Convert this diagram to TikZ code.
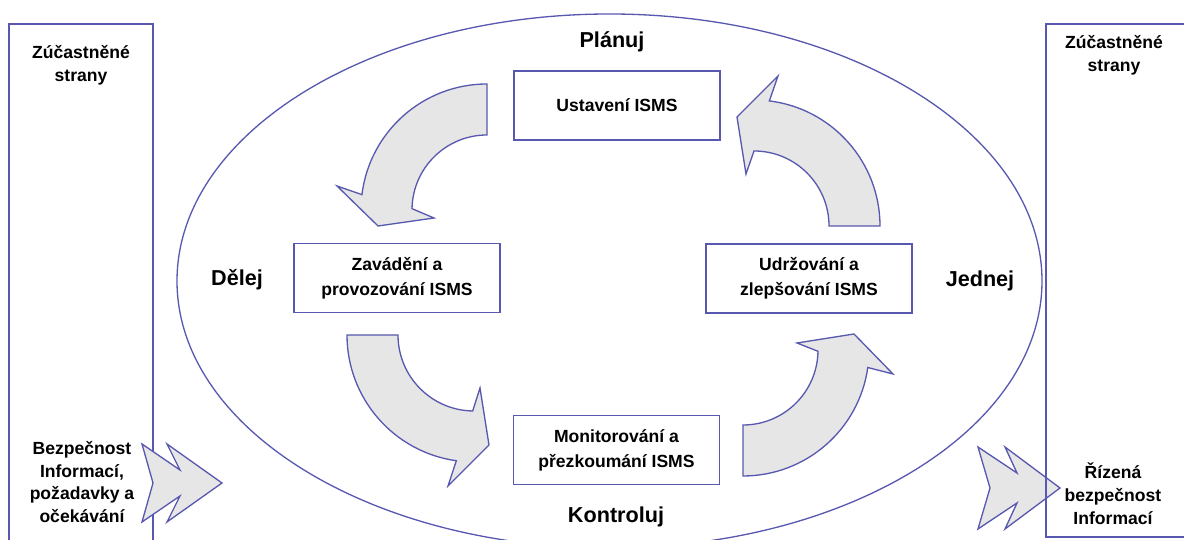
\documentclass[tikz,border=0pt]{standalone}
\usepackage{fontspec}
\setmainfont{Liberation Sans}
\usetikzlibrary{calc}
\definecolor{isblue}{RGB}{88,88,176}
\definecolor{arrowgray}{RGB}{230,230,230}

\begin{document}
\begin{tikzpicture}[x=0.02cm, y=0.02cm,
    rimline/.style={draw=isblue, line width=0.75pt},
    flow/.style={rimline, fill=arrowgray, line join=miter},
    stage/.style={rimline, fill=white, minimum width=4.12cm, minimum height=1.38cm,
        inner sep=0pt, align=center, font=\fontsize{10}{14.2}\selectfont\bfseries},
    phase/.style={font=\fontsize{12.3}{15}\selectfont\bfseries},
    party/.style={align=center, font=\fontsize{10}{13}\selectfont\bfseries}]
    \useasboundingbox (0,0) rectangle (1184,540);
    \clip (0,0) rectangle (1184,540);

    \draw[rimline] (609.5,259) ellipse [x radius=432.5, y radius=267];
    \draw[rimline] (9,-5) -- (9,516) -- (153,516) -- (153,-5);

    \coordinate (c1) at (487,330);
    \coordinate (c2) at (754,314);
    \coordinate (c3) at (474,205);
    \coordinate (c4) at (743,190);
    \draw[flow] ($(c1)+(90:126)$) arc[start angle=90, end angle=173, radius=126]
        -- (337,354) -- (378,314) -- (434,322)
        -- ($(c1)+(179:75)$) arc[start angle=179, end angle=90, radius=75] -- cycle;
    \draw[flow] ($(c2)+(0:126)$) arc[start angle=0, end angle=83, radius=126]
        -- (778,464) -- (737,423) -- (746,366)
        -- ($(c2)+(90:75)$) arc[start angle=90, end angle=0, radius=75] -- cycle;
    \draw[flow] ($(c3)+(180:127)$) arc[start angle=180, end angle=262, radius=127]
        -- (448,54) -- (489,95) -- (480,152)
        -- ($(c3)+(269:76)$) arc[start angle=269, end angle=180, radius=76] -- cycle;
    \draw[flow] ($(c4)+(270:126)$) arc[start angle=270, end angle=352, radius=126]
        -- (893,166) -- (854,206) -- (797,197)
        -- ($(c4)+(359:75)$) arc[start angle=359, end angle=270, radius=75] -- cycle;

    \draw[flow] (142,96) -- (180,70) -- (167,96) -- (222,57) -- (167,18)
        -- (180,44) -- (142,18) -- (153,57) -- cycle;
    \draw[flow] (978,93) -- (1017,67) -- (1005,93) -- (1060,52) -- (1005,11)
        -- (1017,37) -- (978,11) -- (990,52) -- cycle;
    \draw[rimline] (1046,3) rectangle (1190,516);

    \node[stage] (ustav) at (617,434.5) {Ustavení ISMS};
    \node[stage] (zavad) at (397,262) {Zavádění a\\provozování ISMS};
    \node[stage] (udrz) at (809,261.5) {Udržování a\\zlepšování ISMS};
    \node[stage] (monit) at (616.5,90) {Monitorování a\\přezkoumání ISMS};

    \node[phase] (plan) at (612,498) {Plánuj};
    \node[phase] (delej) at (237,260) {Dělej};
    \node[phase] (jednej) at (980,259) {Jednej};
    \node[phase] (kontr) at (616,23) {Kontroluj};

    \node[party] (zleft) at (81,475) {Zúčastněné\\strany};
    \node[party] (zright) at (1114,485) {Zúčastněné\\strany};
    \node[party] (vstup) at (82,58) {Bezpečnost\\Informací,\\požadavky a\\očekávání};
    \node[party] (vystup) at (1113,46) {Řízená\\bezpečnost\\Informací};
\end{tikzpicture}
\end{document}
